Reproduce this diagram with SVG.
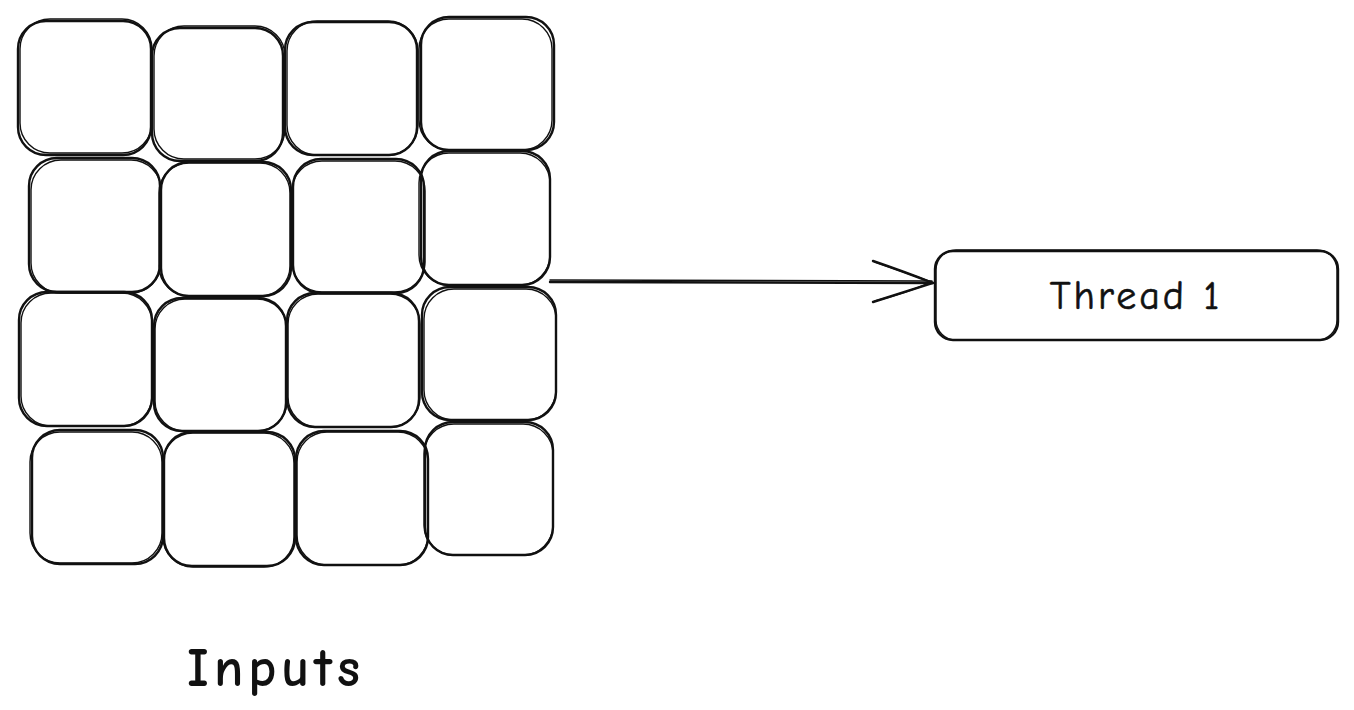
<svg xmlns="http://www.w3.org/2000/svg" width="1354" height="710" viewBox="0 0 1354 710">
<style>
.b{fill:none;stroke:#111111;stroke-width:2.4;stroke-linecap:round}
.s{fill:none;stroke:#111111;stroke-width:1.4;stroke-linecap:round}
.t{font-family:"Comic Neue","Liberation Sans",sans-serif;fill:#111111}
</style>
<rect width="1354" height="710" fill="#ffffff"/>
<g id="inputs-grid">
<g id="b11"><rect class="b" x="18" y="21" width="133" height="134" rx="28"/><rect class="s" x="20" y="19" width="132" height="134" rx="30"/></g>
<g id="b12"><rect class="b" x="152" y="28" width="131" height="133" rx="28"/><rect class="s" x="154" y="26" width="131" height="133" rx="30"/></g>
<g id="b13"><rect class="b" x="285" y="22" width="132" height="133" rx="28"/><rect class="s" x="287" y="21" width="131" height="134" rx="30"/></g>
<g id="b14"><rect class="b" x="421" y="17" width="133" height="133" rx="28"/><rect class="s" x="419" y="19" width="133" height="131" rx="30"/></g>
<g id="b21"><rect class="b" x="29" y="158" width="131" height="134" rx="28"/><rect class="s" x="31" y="160" width="130" height="133" rx="30"/></g>
<g id="b22"><rect class="b" x="161" y="162" width="130" height="134" rx="28"/><rect class="s" x="159" y="163" width="131" height="133" rx="30"/></g>
<g id="b23"><rect class="b" x="293" y="159" width="131" height="134" rx="28"/><rect class="s" x="292" y="161" width="133" height="131" rx="30"/></g>
<g id="b24"><rect class="b" x="421" y="151" width="129" height="134" rx="28"/><rect class="s" x="419" y="153" width="131" height="132" rx="30"/></g>
<g id="b31"><rect class="b" x="19" y="292" width="133" height="134" rx="28"/><rect class="s" x="21" y="293" width="131" height="133" rx="30"/></g>
<g id="b32"><rect class="b" x="154" y="298" width="132" height="133" rx="28"/><rect class="s" x="155" y="299" width="132" height="132" rx="30"/></g>
<g id="b33"><rect class="b" x="287" y="293" width="132" height="134" rx="28"/><rect class="s" x="288" y="294" width="132" height="133" rx="30"/></g>
<g id="b34"><rect class="b" x="422" y="287" width="134" height="133" rx="28"/><rect class="s" x="424" y="289" width="132" height="131" rx="30"/></g>
<g id="b41"><rect class="b" x="32" y="430" width="131" height="134" rx="28"/><rect class="s" x="30" y="432" width="132" height="131" rx="30"/></g>
<g id="b42"><rect class="b" x="164" y="432" width="131" height="134" rx="28"/><rect class="s" x="163" y="433" width="131" height="134" rx="30"/></g>
<g id="b43"><rect class="b" x="296" y="431" width="132" height="134" rx="28"/><rect class="s" x="297" y="432" width="131" height="133" rx="30"/></g>
<g id="b44"><rect class="b" x="425" y="422" width="128" height="133" rx="28"/><rect class="s" x="424" y="424" width="129" height="131" rx="30"/></g>
</g>
<g id="connectors">
<path class="b" d="M550 282 L933 283"/>
<path class="s" d="M550 280 L932 281"/>
<path class="b" d="M873 261 Q905 272 933 283 Q905 292 873 302"/>
<path class="s" d="M875 262 Q906 273 932 282 Q906 293 875 301"/>
</g>
<g id="thread1">
<rect class="b" x="935" y="251" width="403" height="89" rx="18"/>
<rect class="s" x="936" y="250" width="401" height="90" rx="20"/>
<text class="t" x="1136" y="309" text-anchor="middle" font-size="40" letter-spacing="3" stroke="#111111" stroke-width="0.6">Thread 1</text>
</g>
<g id="label-inputs">
<text class="t" x="276" y="686" text-anchor="middle" font-size="54" font-weight="bold" letter-spacing="5">Inputs</text>
</g>
</svg>
